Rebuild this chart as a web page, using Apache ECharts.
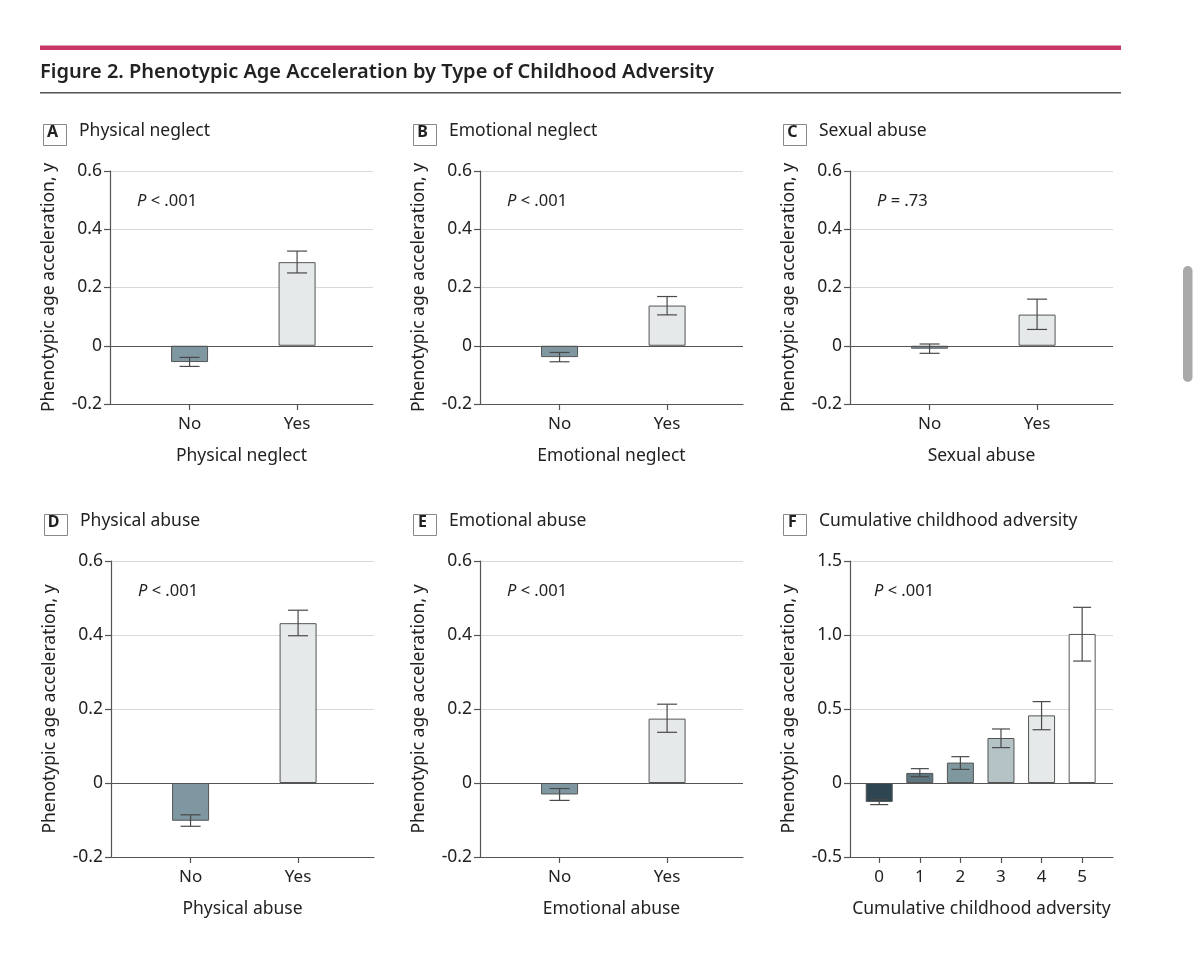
<!DOCTYPE html>
<html>
<head>
<meta charset="utf-8">
<script src="https://cdn.jsdelivr.net/npm/echarts@6/dist/echarts.min.js"></script>
<style>
  html, body { margin: 0; padding: 0; background: #fff; }
  #chart { width: 1200px; height: 963px; }
</style>
</head>
<body>
<div id="chart"></div>
<script>
// ---------- data ----------
const yesNoCats = ['No', 'Yes'];
const adversityCats = ['0', '1', '2', '3', '4', '5'];

const physNeglectMean = [-0.056, 0.287];
const physNeglectLo   = [-0.071, 0.250];
const physNeglectHi   = [-0.040, 0.325];

const emoNeglectMean = [-0.039, 0.138];
const emoNeglectLo   = [-0.055, 0.106];
const emoNeglectHi   = [-0.023, 0.169];

const sexAbuseMean = [-0.010, 0.107];
const sexAbuseLo   = [-0.026, 0.056];
const sexAbuseHi   = [0.006, 0.160];

const physAbuseMean = [-0.102, 0.432];
const physAbuseLo   = [-0.117, 0.398];
const physAbuseHi   = [-0.086, 0.467];

const emoAbuseMean = [-0.031, 0.174];
const emoAbuseLo   = [-0.047, 0.137];
const emoAbuseHi   = [-0.015, 0.213];

const cumMean = [-0.128, 0.068, 0.138, 0.304, 0.457, 1.007];
const cumLo   = [-0.146, 0.043, 0.092, 0.239, 0.360, 0.824];
const cumHi   = [-0.110, 0.097, 0.178, 0.365, 0.550, 1.187];

const yTicksSmall = [-0.2, 0, 0.2, 0.4, 0.6];
const yTicksCum = [-0.5, 0, 0.5, 1.0, 1.5];

const panelLetters = ['A', 'B', 'C', 'D', 'E', 'F'];
const panelTitles = ['Physical neglect', 'Emotional neglect', 'Sexual abuse',
                     'Physical abuse', 'Emotional abuse', 'Cumulative childhood adversity'];
const pValues = ['< .001', '< .001', '= .73', '< .001', '< .001', '< .001'];

// ---------- styling ----------
const FONT = '"Noto Sans", "Open Sans", sans-serif';
const TXT = '#222';
const AX = '#555';
const yesNoColors = ['#7f97a0', '#e5e9ea'];
const cumColors = ['#2e4651', '#5e7680', '#7f979f', '#b5c3c7', '#e5e9ea', '#ffffff'];

const panels = [
  { cats: yesNoCats, mean: physNeglectMean, lo: physNeglectLo, hi: physNeglectHi, colors: yesNoColors, ticks: yTicksSmall },
  { cats: yesNoCats, mean: emoNeglectMean, lo: emoNeglectLo, hi: emoNeglectHi, colors: yesNoColors, ticks: yTicksSmall },
  { cats: yesNoCats, mean: sexAbuseMean, lo: sexAbuseLo, hi: sexAbuseHi, colors: yesNoColors, ticks: yTicksSmall },
  { cats: yesNoCats, mean: physAbuseMean, lo: physAbuseLo, hi: physAbuseHi, colors: yesNoColors, ticks: yTicksSmall },
  { cats: yesNoCats, mean: emoAbuseMean, lo: emoAbuseLo, hi: emoAbuseHi, colors: yesNoColors, ticks: yTicksSmall },
  { cats: adversityCats, mean: cumMean, lo: cumLo, hi: cumHi, colors: cumColors, ticks: yTicksCum }
];

const layout = [
  { left: 110, top: 171, width: 263, height: 233 },
  { left: 480, top: 171, width: 263, height: 233 },
  { left: 850, top: 171, width: 263, height: 233 },
  { left: 111, top: 561, width: 263, height: 296 },
  { left: 480, top: 561, width: 263, height: 296 },
  { left: 850, top: 561, width: 263, height: 296 }
];

const grid = [], xAxis = [], yAxis = [], series = [], graphic = [];

panels.forEach((p, i) => {
  const L = layout[i];
  const isCum = p.cats.length > 2;
  grid.push({ left: L.left, top: L.top, width: L.width, height: L.height, containLabel: false });

  const pos = p.cats.map((c, k) => isCum ? k : k + 1);
  const xMin = isCum ? -0.72 : 0.26;
  const xMax = isCum ? 5.76 : 2.706;

  xAxis.push({
    type: 'value', gridIndex: i, min: xMin, max: xMax,
    name: panelTitles[i],
    nameLocation: 'middle', nameGap: 43,
    nameTextStyle: { fontFamily: FONT, fontSize: 17.5, color: TXT },
    axisLine: { show: true, onZero: false, lineStyle: { color: AX, width: 1.2 } },
    axisTick: { show: true, length: 6, customValues: pos, lineStyle: { color: AX, width: 1.2 } },
    axisLabel: {
      customValues: pos, margin: 12, fontFamily: FONT, fontSize: 17, color: TXT,
      formatter: v => p.cats[isCum ? Math.round(v) : Math.round(v) - 1]
    },
    splitLine: { show: false }
  });

  const t = p.ticks;
  yAxis.push({
    type: 'value', gridIndex: i, min: t[0], max: t[t.length - 1], interval: t[1] - t[0],
    name: 'Phenotypic age acceleration, y',
    nameLocation: 'middle', nameGap: 52,
    nameTextStyle: { fontFamily: FONT, fontSize: 17.5, color: TXT },
    axisLine: { show: true, onZero: false, lineStyle: { color: AX, width: 1.2 } },
    axisTick: { show: true, length: 6, lineStyle: { color: AX, width: 1.2 } },
    axisLabel: {
      margin: 8, fontFamily: FONT, fontSize: 17.5, color: TXT,
      formatter: v => (Math.abs(v) < 1e-9 ? '0' : v.toFixed(1))
    },
    splitLine: { show: true, lineStyle: { color: '#d9d9d9', width: 1 } }
  });

  series.push({
    type: 'bar', xAxisIndex: i, yAxisIndex: i,
    barWidth: isCum ? 27 : 37,
    data: p.mean.map((m, k) => ({
      value: [pos[k], m],
      itemStyle: { color: p.colors[k], borderColor: AX, borderWidth: 1 }
    })),
    markLine: {
      silent: true, symbol: 'none', label: { show: false },
      lineStyle: { color: AX, width: 1.2, type: 'solid' },
      data: [{ yAxis: 0 }], animation: false
    },
    animation: false, z: 2
  });

  series.push({
    type: 'custom', xAxisIndex: i, yAxisIndex: i,
    data: p.mean.map((m, k) => [pos[k], p.lo[k], p.hi[k]]),
    encode: { x: 0, y: [1, 2] },
    renderItem: (params, api) => {
      const x = api.value(0);
      const a = api.coord([x, api.value(1)]);
      const b = api.coord([x, api.value(2)]);
      const hw = isCum ? 9 : 10;
      const st = { stroke: '#4a4a4a', lineWidth: 1.2 };
      return {
        type: 'group',
        children: [
          { type: 'line', shape: { x1: a[0], y1: a[1], x2: b[0], y2: b[1] }, style: st },
          { type: 'line', shape: { x1: a[0] - hw, y1: a[1], x2: a[0] + hw, y2: a[1] }, style: st },
          { type: 'line', shape: { x1: b[0] - hw, y1: b[1], x2: b[0] + hw, y2: b[1] }, style: st }
        ]
      };
    },
    animation: false, z: 5
  });

  const bx = L.left - 69, by = L.top - 49;
  graphic.push({
    type: 'rect', left: bx, top: by, shape: { width: 23, height: 21 },
    style: { fill: 'none', stroke: '#888', lineWidth: 1 }
  });
  graphic.push({
    type: 'text', x: bx + 11.5, y: by + 10.5,
    style: { text: panelLetters[i], fontFamily: FONT, fontWeight: 'bold', fontSize: 16, fill: '#222',
             textAlign: 'center', textVerticalAlign: 'middle' }
  });
  graphic.push({
    type: 'text', x: bx + 38, y: by + 9.5,
    style: { text: panelTitles[i], fontFamily: FONT, fontSize: 17.5, fill: TXT,
             textAlign: 'left', textVerticalAlign: 'middle' }
  });
  graphic.push({
    type: 'text', x: L.left + (isCum ? 24 : 27), y: L.top + 30,
    style: {
      text: '{i|P} ' + pValues[i],
      rich: { i: { fontStyle: 'italic', fontFamily: FONT, fontSize: 16.5, fill: TXT } },
      fontFamily: FONT, fontSize: 16.5, fill: TXT, textAlign: 'left', textVerticalAlign: 'middle'
    }
  });
});

graphic.push({ type: 'rect', left: 40, top: 45.5, shape: { width: 1081, height: 4.5 }, style: { fill: '#c8366a' } });
graphic.push({
  type: 'text', x: 40, y: 72,
  style: { text: 'Figure 2. Phenotypic Age Acceleration by Type of Childhood Adversity',
           fontFamily: FONT, fontWeight: 600, fontSize: 20, fill: '#222',
           textAlign: 'left', textVerticalAlign: 'middle' }
});
graphic.push({ type: 'rect', left: 40, top: 92, shape: { width: 1081, height: 1.5 }, style: { fill: '#555' } });
graphic.push({ type: 'rect', left: 1183, top: 266, shape: { width: 9.5, height: 116, r: 4.75 }, style: { fill: '#a9a9a9' } });

const chart = echarts.init(document.getElementById('chart'), null, { renderer: 'canvas' });
chart.setOption({
  backgroundColor: '#ffffff',
  animation: false,
  grid, xAxis, yAxis, series, graphic
});
</script>
</body>
</html>
